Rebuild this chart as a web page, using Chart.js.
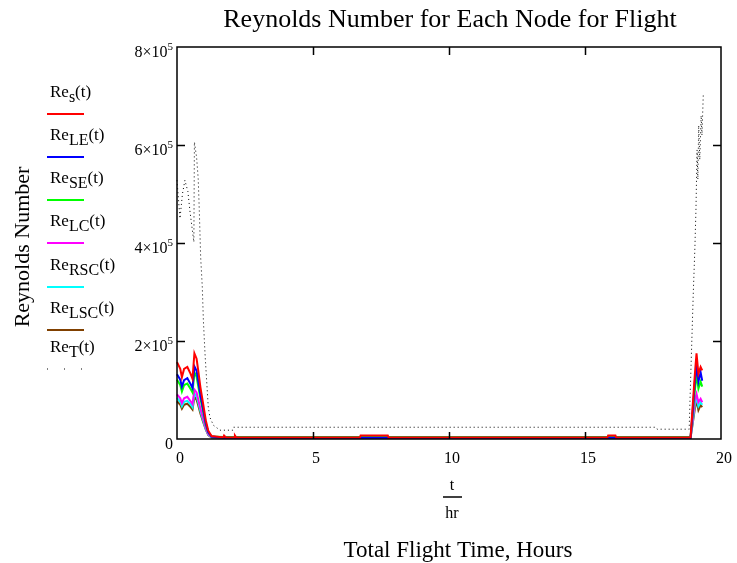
<!DOCTYPE html>
<html>
<head>
<meta charset="utf-8">
<script src="https://cdn.jsdelivr.net/npm/chart.js@4"></script>
<style>
  body { margin: 0; background: #fff; }
  #wrap { width: 737px; height: 563px; }
</style>
</head>
<body>
<div id="wrap"><canvas id="reChart" width="737" height="563"></canvas></div>
<script>
// time points (hours) for the node traces
const tNode = [0, 0.12, 0.18, 0.26, 0.38, 0.5, 0.57, 0.64, 0.72, 0.78, 0.86, 0.96, 1.06, 1.15, 1.27,
  1.7, 1.73, 1.8, 2.1, 2.13, 2.18, 6.72, 6.75, 7.75, 7.78, 15.82, 15.85, 16.12, 16.15,
  18.88, 18.95, 19.04, 19.1, 19.17, 19.25, 19.31];

const reS   = [157000, 143000, 126000, 143000, 147000, 133000, 123000, 175000, 164000, 140000, 106000, 72000, 38000, 17000, 6000,
  3000, 7000, 3000, 3000, 7000, 3000, 3000, 7000, 7000, 3000, 3000, 7000, 7000, 3000,
  3000, 60000, 133000, 175000, 133000, 147000, 140000];
const reLE  = [132000, 121000, 107000, 120000, 124000, 112000, 104000, 148000, 139000, 118000, 90000, 61000, 32000, 14000, 5000,
  2500, 2500, 2500, 2500, 2500, 2500, 2500, 2500, 2500, 2500, 2500, 2500, 2500, 2500,
  2500, 50000, 119000, 147000, 117000, 136000, 119000];
const reSE  = [121000, 110000, 97000, 110000, 113000, 102000, 95000, 136000, 127000, 108000, 83000, 56000, 29000, 13000, 5000,
  4000, 4000, 4000, 4000, 4000, 4000, 4000, 4000, 4000, 4000, 4000, 4000, 4000, 4000,
  4000, 45000, 99000, 133000, 103000, 117000, 107000];
const reLC  = [91000, 83000, 73000, 83000, 86000, 77000, 71000, 101000, 95000, 81000, 62000, 42000, 22000, 10000, 4000,
  2500, 2500, 2500, 2500, 2500, 2500, 2500, 2500, 2500, 2500, 2500, 2500, 2500, 2500,
  2500, 35000, 79000, 92000, 75000, 82000, 75000];
const reRSC = [84000, 76000, 67000, 76000, 78000, 71000, 65000, 93000, 87000, 75000, 57000, 38000, 20000, 9000, 3500,
  2200, 2200, 2200, 2200, 2200, 2200, 2200, 2200, 2200, 2200, 2200, 2200, 2200, 2200,
  2200, 31000, 70000, 85000, 67000, 75000, 70000];
const reLSC = [77000, 70000, 62000, 70000, 72000, 65000, 60000, 86000, 80000, 69000, 52000, 35000, 19000, 8000, 3000,
  2000, 2000, 2000, 2000, 2000, 2000, 2000, 2000, 2000, 2000, 2000, 2000, 2000, 2000,
  2000, 28000, 62000, 79000, 59000, 69000, 65000];

// tip trace has its own time points
const tTip = [0, 0.11, 0.2, 0.29, 0.4, 0.48, 0.62, 0.64, 0.72, 0.78, 0.82, 0.87, 0.93, 0.97, 1.03, 1.09, 1.15, 1.21,
  1.34, 1.58, 2.05, 2.08, 17.6, 17.65, 18.83, 18.86, 18.92, 18.98, 19.04, 19.08, 19.12, 19.15, 19.18, 19.22, 19.27, 19.3, 19.35];
const reT = [528000, 450000, 500000, 528000, 505000, 463000, 402000, 606000, 575000, 531000, 466000, 371000, 310000, 242000,
  174000, 119000, 65000, 44000, 28000, 18000, 18000, 24000, 24000, 20000, 20000, 79000, 187000, 296000, 390000, 470000,
  590000, 530000, 640000, 570000, 660000, 620000, 705000];

const xTicks = [0, 5, 10, 15, 20];
const yTicks = [0, 200000, 400000, 600000, 800000];
const yTickMant = ['0', '2', '4', '6', '8'];

// legend: base text + subscript
const legendSubs = ['s', 'LE', 'SE', 'LC', 'RSC', 'LSC', 'T'];
const colors = ['#ff0000', '#0000ff', '#00ff00', '#ff00ff', '#00ffff', '#804000', '#000000'];

function pts(ts, vs) {
  return ts.map((t, i) => ({ x: t, y: vs[i] }));
}

const series = [reS, reLE, reSE, reLC, reRSC, reLSC];
const datasets = series.map((vals, i) => ({
  label: 'Re' + legendSubs[i] + '(t)',
  data: pts(tNode, vals),
  borderColor: colors[i],
  borderWidth: 2,
  pointRadius: 0,
  showLine: true,
  tension: 0,
  clip: false
}));
datasets.push({
  label: 'ReT(t)',
  data: pts(tTip, reT),
  borderColor: '#000',
  borderWidth: 1,
  borderDash: [1, 3],
  pointRadius: 0,
  showLine: true,
  tension: 0,
  clip: false
});

const SERIF = '"Liberation Serif", "Times New Roman", serif';

// draws frame, inner ticks, y labels with exponent, titles and the left legend
const decor = {
  id: 'decor',
  afterDatasetsDraw(chart) {
    const ctx = chart.ctx;
    const a = chart.chartArea;
    const xs = chart.scales.x, ys = chart.scales.y;
    ctx.save();
    ctx.strokeStyle = '#000';
    ctx.lineWidth = 1.5;
    ctx.strokeRect(a.left, a.top, a.right - a.left, a.bottom - a.top);
    ctx.beginPath();
    xTicks.slice(1, -1).forEach(v => {
      const x = Math.round(xs.getPixelForValue(v)) + 0.5;
      ctx.moveTo(x, a.bottom); ctx.lineTo(x, a.bottom - 7);
      ctx.moveTo(x, a.top); ctx.lineTo(x, a.top + 8);
    });
    yTicks.slice(1, -1).forEach(v => {
      const y = Math.round(ys.getPixelForValue(v)) + 0.5;
      ctx.moveTo(a.left, y); ctx.lineTo(a.left + 8, y);
      ctx.moveTo(a.right, y); ctx.lineTo(a.right - 8, y);
    });
    ctx.stroke();

    ctx.fillStyle = '#000';
    ctx.textBaseline = 'alphabetic';

    // y tick labels, m×10^5
    ctx.textAlign = 'right';
    yTicks.forEach((v, i) => {
      const y = ys.getPixelForValue(v) + 10;
      if (v === 0) {
        ctx.font = '16px ' + SERIF;
        ctx.fillText('0', 173, y);
        return;
      }
      ctx.font = '11px ' + SERIF;
      ctx.fillText('5', 173, y - 7);
      const w = ctx.measureText('5').width;
      ctx.font = '16px ' + SERIF;
      ctx.fillText(yTickMant[i] + '×10', 173 - w, y);
    });

    ctx.textAlign = 'center';
    ctx.font = '26px ' + SERIF;
    ctx.fillText('Reynolds Number for Each Node for Flight', 450, 27);

    ctx.font = '23px ' + SERIF;
    ctx.fillText('Total Flight Time, Hours', 458, 557);

    ctx.font = '16px ' + SERIF;
    ctx.fillText('t', 452, 490);
    ctx.fillText('hr', 452, 518);
    ctx.lineWidth = 1.5;
    ctx.beginPath();
    ctx.moveTo(443, 497); ctx.lineTo(462, 497);
    ctx.stroke();

    ctx.save();
    ctx.translate(29, 247);
    ctx.rotate(-Math.PI / 2);
    ctx.font = '22px ' + SERIF;
    ctx.fillText('Reynolds Number', 0, 0);
    ctx.restore();

    // legend
    const lineYs = [114, 157, 200, 243, 287, 330, 369];
    ctx.textAlign = 'left';
    legendSubs.forEach((sub, i) => {
      const ly = lineYs[i];
      const by = ly - 17;
      ctx.font = '17px ' + SERIF;
      ctx.fillText('Re', 50, by);
      let x = 50 + ctx.measureText('Re').width;
      ctx.font = '16px ' + SERIF;
      ctx.fillText(sub, x, by + 5);
      x += ctx.measureText(sub).width;
      ctx.font = '17px ' + SERIF;
      ctx.fillText('(t)', x, by);
      ctx.strokeStyle = colors[i];
      ctx.lineWidth = i === 6 ? 1 : 2;
      ctx.setLineDash(i === 6 ? [1, 16] : []);
      ctx.beginPath();
      ctx.moveTo(47, ly); ctx.lineTo(84, ly);
      ctx.stroke();
      ctx.setLineDash([]);
    });
    ctx.restore();
  }
};

new Chart(document.getElementById('reChart'), {
  type: 'scatter',
  data: { datasets: datasets },
  options: {
    responsive: false,
    animation: false,
    layout: { padding: { top: 47, right: 16, left: 0, bottom: 0 } },
    plugins: { legend: { display: false }, title: { display: false }, tooltip: { enabled: false } },
    scales: {
      x: {
        type: 'linear', min: 0, max: 20,
        afterFit: s => { s.height = 124; },
        afterBuildTicks: s => { s.ticks = xTicks.map(v => ({ value: v })); },
        grid: { display: false },
        border: { display: false },
        ticks: { color: '#000', font: { family: SERIF, size: 16 }, padding: 2, labelOffset: 3, maxRotation: 0 }
      },
      y: {
        type: 'linear', min: 0, max: 800000,
        afterFit: s => { s.width = 177; },
        afterBuildTicks: s => { s.ticks = yTicks.map(v => ({ value: v })); },
        grid: { display: false },
        border: { display: false },
        ticks: { display: false }
      }
    }
  },
  plugins: [decor]
});
</script>
</body>
</html>
